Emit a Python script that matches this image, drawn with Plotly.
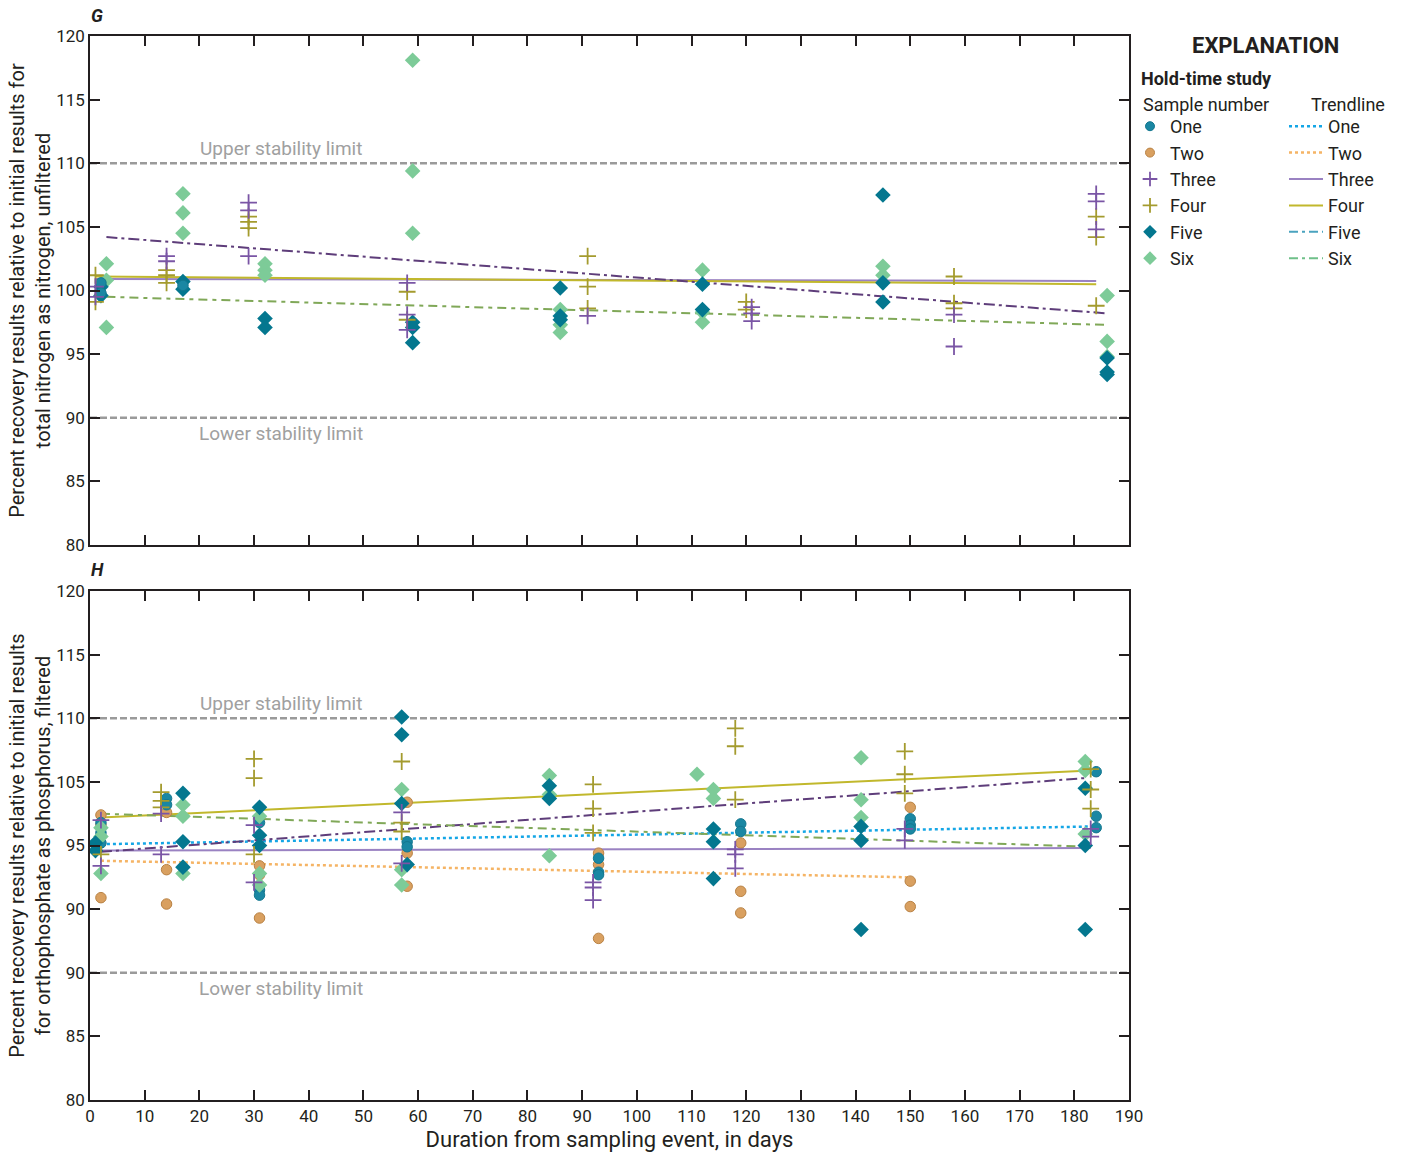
import plotly.graph_objects as go

FONT = "Liberation Sans Narrow, Roboto, Arial Narrow, sans-serif"

# ---------------- Panel G : total nitrogen ----------------
G_ONE_DAY = [2, 2, 17]
G_ONE_VAL = [100.6, 99.8, 100.4]
G_THREE_DAY = [1, 1, 14, 14, 29, 29, 29, 58, 58, 58, 91, 121, 121, 121, 158, 158, 184, 184, 184]
G_THREE_VAL = [100.3, 99.5, 102.7, 102.3, 106.9, 106.3, 102.7, 100.6, 98.1, 96.9, 98.0,
               98.7, 98.2, 97.6, 98.1, 95.6, 107.6, 107.0, 104.8]
G_FOUR_DAY = [1, 1, 14, 14, 14, 29, 29, 29, 58, 58, 91, 91, 91, 120, 120, 158, 158, 158, 184, 184, 184]
G_FOUR_VAL = [101.2, 99.1, 101.6, 101.2, 100.6, 105.8, 105.4, 104.9, 99.9, 97.7, 102.7, 100.3,
              98.6, 99.1, 98.5, 101.1, 99.0, 98.6, 105.8, 104.2, 98.8]
G_FIVE_DAY = [2, 2, 17, 17, 32, 32, 59, 59, 59, 86, 86, 86, 112, 112, 145, 145, 145, 186, 186, 186]
G_FIVE_VAL = [100.3, 99.6, 100.7, 100.1, 97.8, 97.1, 97.5, 97.1, 95.9, 100.2, 98.0, 97.7,
              100.5, 98.5, 107.5, 100.6, 99.1, 94.7, 93.6, 93.4]
G_SIX_DAY = [3, 3, 3, 17, 17, 17, 32, 32, 32, 59, 59, 59, 86, 86, 86, 112, 112, 112, 145, 145, 186, 186, 186]
G_SIX_VAL = [102.1, 100.8, 97.1, 107.6, 106.1, 104.5, 102.1, 101.6, 101.2, 118.1, 109.4, 104.5,
             98.5, 97.3, 96.7, 101.6, 98.3, 97.5, 101.9, 101.2, 99.6, 96.0, 94.8]

# trendlines G: [start day, end day], [start value, end value]
G_TREND_THREE = ([1, 184], [100.9, 100.75])
G_TREND_FOUR = ([1, 184], [101.1, 100.5])
G_TREND_FIVE = ([3, 186], [104.2, 98.2])
G_TREND_SIX = ([3, 186], [99.5, 97.3])

# ---------------- Panel H : orthophosphate ----------------
H_ONE_DAY = [2, 2, 2, 14, 14, 31, 31, 31, 58, 58, 93, 93, 93, 119, 119, 150, 150, 150, 184, 184, 184]
H_ONE_VAL = [101.8, 101.0, 100.2, 103.7, 103.2, 101.8, 96.5, 96.1, 100.3, 99.9, 99.0, 97.9, 97.7,
             101.7, 101.1, 102.1, 101.6, 101.3, 105.8, 102.3, 101.4]
H_TWO_DAY = [2, 2, 2, 14, 14, 14, 31, 31, 31, 58, 58, 58, 93, 93, 93, 119, 119, 119, 150, 150, 150]
H_TWO_VAL = [102.4, 101.6, 95.9, 102.6, 98.1, 95.4, 98.4, 97.7, 94.3, 103.4, 99.4, 96.8,
             99.4, 98.5, 92.7, 100.2, 96.4, 94.7, 103.0, 97.2, 95.2]
H_THREE_DAY = [2, 2, 13, 13, 30, 30, 57, 57, 92, 92, 92, 118, 118, 118, 149, 149, 183, 183]
H_THREE_VAL = [102.0, 98.4, 102.5, 99.3, 101.6, 97.1, 102.6, 98.6, 97.1, 96.7, 95.7,
               99.7, 99.3, 98.2, 101.3, 100.4, 101.3, 100.7]
H_FOUR_DAY = [2, 13, 13, 13, 30, 30, 30, 57, 57, 57, 92, 92, 92, 118, 118, 118, 149, 149, 149, 183, 183, 183]
H_FOUR_VAL = [99.3, 104.2, 103.5, 103.0, 106.8, 105.3, 99.3, 106.6, 101.8, 101.1, 104.8, 102.9,
              101.0, 109.2, 107.8, 103.6, 107.4, 105.6, 104.1, 106.0, 104.4, 102.9]
H_FIVE_DAY = [1, 1, 17, 17, 17, 31, 31, 31, 57, 57, 57, 58, 84, 84, 114, 114, 114, 141, 141, 141, 182, 182, 182]
H_FIVE_VAL = [100.2, 99.6, 104.1, 100.3, 98.3, 103.0, 100.8, 100.0, 110.1, 108.7, 103.3, 98.5,
              104.7, 103.7, 101.3, 100.3, 97.4, 101.5, 100.4, 93.4, 104.5, 100.0, 93.4]
H_SIX_DAY = [2, 2, 2, 17, 17, 17, 31, 31, 31, 57, 57, 57, 84, 84, 84, 111, 114, 114, 141, 141, 141, 182, 182, 182]
H_SIX_VAL = [101.4, 100.7, 97.8, 103.2, 102.3, 97.8, 102.3, 97.8, 96.9, 104.4, 98.1, 96.9,
             105.5, 104.0, 99.2, 105.6, 104.4, 103.7, 106.9, 103.6, 102.2, 106.6, 105.9, 100.9]

H_TREND_ONE = ([2, 184], [100.1, 101.5])
H_TREND_TWO = ([2, 150], [98.8, 97.5])
H_TREND_THREE = ([2, 183], [99.6, 99.8])
H_TREND_FOUR = ([2, 183], [102.2, 105.9])
H_TREND_FIVE = ([2, 182], [99.5, 105.3])
H_TREND_SIX = ([2, 183], [102.5, 99.9])

LIMITS = [110, 90]
LIMIT_LABELS = ["Upper stability limit", "Lower stability limit"]
Y_TICKS = [80, 85, 90, 95, 100, 105, 110, 115, 120]
G_TICKTEXT = ["80", "85", "90", "95", "100", "105", "110", "115", "120"]
H_TICKTEXT = ["80", "85", "90", "90", "95", "105", "110", "115", "120"]
SERIES = ["One", "Two", "Three", "Four", "Five", "Six"]

# styles
MARK = {
    "One": dict(symbol="circle", size=10.5, color="#1a87a3", line=dict(color="#14778f", width=1)),
    "Two": dict(symbol="circle", size=10.5, color="#d9a060", line=dict(color="#b98244", width=1)),
    "Three": dict(symbol="cross-thin", size=12, color="#7a55a5", line=dict(color="#7a55a5", width=1.8)),
    "Four": dict(symbol="cross-thin", size=12, color="#a49b2e", line=dict(color="#a49b2e", width=1.8)),
    "Five": dict(symbol="diamond", size=12, color="#04778f", line=dict(width=0)),
    "Six": dict(symbol="diamond", size=12, color="#7dcb98", line=dict(width=0)),
}
TREND_PLOT = {
    "One": dict(color="#14a6e6", width=2.5, dash="dot"),
    "Two": dict(color="#f5b465", width=2.5, dash="dot"),
    "Three": dict(color="#9a82c2", width=2, dash="solid"),
    "Four": dict(color="#c1b82c", width=2, dash="solid"),
    "Five": dict(color="#5e3d7a", width=2, dash="11px,4px,3px,4px"),
    "Six": dict(color="#80a858", width=2, dash="9px,5px,4px,5px"),
}
TREND_LEG = dict(TREND_PLOT)
TREND_LEG["Five"] = dict(color="#4aa3bf", width=2, dash="9px,4px,3px,4px")
TREND_LEG["Six"] = dict(color="#6fc089", width=2, dash="9px,4px,3px,4px")

fig = go.Figure()

def pts(days, vals, name, xa, ya):
    fig.add_trace(go.Scatter(x=days, y=vals, mode="markers", marker=MARK[name],
                             xaxis=xa, yaxis=ya, showlegend=False, hoverinfo="x+y"))

def trend(tr, name, xa, ya):
    fig.add_trace(go.Scatter(x=tr[0], y=tr[1], mode="lines", line=TREND_PLOT[name],
                             xaxis=xa, yaxis=ya, showlegend=False, hoverinfo="skip"))

# G panel
trend(G_TREND_THREE, "Three", "x", "y")
trend(G_TREND_FOUR, "Four", "x", "y")
trend(G_TREND_FIVE, "Five", "x", "y")
trend(G_TREND_SIX, "Six", "x", "y")
pts(G_SIX_DAY, G_SIX_VAL, "Six", "x", "y")
pts(G_FIVE_DAY, G_FIVE_VAL, "Five", "x", "y")
pts(G_ONE_DAY, G_ONE_VAL, "One", "x", "y")
pts(G_FOUR_DAY, G_FOUR_VAL, "Four", "x", "y")
pts(G_THREE_DAY, G_THREE_VAL, "Three", "x", "y")

# H panel
trend(H_TREND_ONE, "One", "x2", "y2")
trend(H_TREND_TWO, "Two", "x2", "y2")
trend(H_TREND_THREE, "Three", "x2", "y2")
trend(H_TREND_FOUR, "Four", "x2", "y2")
trend(H_TREND_FIVE, "Five", "x2", "y2")
trend(H_TREND_SIX, "Six", "x2", "y2")
pts(H_TWO_DAY, H_TWO_VAL, "Two", "x2", "y2")
pts(H_ONE_DAY, H_ONE_VAL, "One", "x2", "y2")
pts(H_SIX_DAY, H_SIX_VAL, "Six", "x2", "y2")
pts(H_FIVE_DAY, H_FIVE_VAL, "Five", "x2", "y2")
pts(H_FOUR_DAY, H_FOUR_VAL, "Four", "x2", "y2")
pts(H_THREE_DAY, H_THREE_VAL, "Three", "x2", "y2")

# legend-only entries
for s in SERIES:
    fig.add_trace(go.Scatter(x=[None], y=[None], mode="markers", name=s,
                             marker=dict(MARK[s], size=MARK[s]["size"] - 1.5), legend="legend"))
for s in SERIES:
    fig.add_trace(go.Scatter(x=[None], y=[None], mode="lines", name=s,
                             line=TREND_LEG[s], legend="legend2"))

L, R, T, B = 90, 277, 36, 56
PW, PH = 1406 - L - R, 1156 - T - B

# limit lines
shapes = []
annots = []
for yref, xref in (("y", "x"), ("y2", "x2")):
    for lim, lab in zip(LIMITS, LIMIT_LABELS):
        shapes.append(dict(type="line", xref=f"{xref} domain", x0=0, x1=1, yref=yref, y0=lim, y1=lim,
                           line=dict(color="#9a9a9a", width=2.5, dash="7px,3px"), layer="below"))
        annots.append(dict(x=35, y=lim, xref=xref, yref=yref, text=lab, showarrow=False,
                           yshift=15 if lim > 100 else -16,
                           font=dict(family=FONT, size=19, color="#a0a0a0")))

px_notes = [("<b><i>G</i></b>", 97, 15, 18, "center"), ("<b><i>H</i></b>", 97, 569, 18, "center"),
            ("<b>EXPLANATION</b>", 1265, 45, 22, "center"),
            ("<b>Hold-time study</b>", 1139, 78, 18, "left"),
            ("Sample number", 1141, 104, 18, "left"),
            ("Trendline", 1309, 104, 18, "left")]
for txt, px, py, sz, al in px_notes:
    annots.append(dict(x=(px - L) / PW, y=(1156 - B - py) / PH, xref="paper", yref="paper",
                       text=txt, showarrow=False, xanchor=al, yanchor="middle",
                       font=dict(family=FONT, size=sz, color="#231f20")))

axis_common = dict(range=[0, 190], dtick=10, tick0=0, ticks="inside", ticklen=10, tickwidth=1.5,
                   tickcolor="#231f20", showline=True, linecolor="#231f20", linewidth=1.5,
                   mirror="ticks", showgrid=False, zeroline=False, automargin=False,
                   tickfont=dict(family=FONT, size=17, color="#231f20"))
yaxis_common = dict(range=[80, 120], tickvals=Y_TICKS, ticks="inside", ticklen=10, tickwidth=1.5,
                    tickcolor="#231f20", showline=True, linecolor="#231f20", linewidth=1.5,
                    mirror="ticks", showgrid=False, zeroline=False, automargin=False,
                    tickfont=dict(family=FONT, size=17, color="#231f20"))

gtop = (1156 - B - 545) / PH
htop = (1156 - B - 591) / PH

fig.update_layout(
    width=1406, height=1156,
    margin=dict(l=L, r=R, t=T, b=B, autoexpand=False),
    paper_bgcolor="white", plot_bgcolor="white",
    font=dict(family=FONT, color="#231f20"),
    xaxis=dict(axis_common, domain=[0, 1], anchor="y", showticklabels=False),
    xaxis2=dict(axis_common, domain=[0, 1], anchor="y2",
                title=dict(text="Duration from sampling event, in days",
                           font=dict(family=FONT, size=22, color="#231f20"), standoff=6)),
    yaxis=dict(yaxis_common, domain=[gtop, 1], anchor="x", ticktext=G_TICKTEXT,
               title=dict(text="Percent recovery results relative to initial results for<br>"
                               "total nitrogen as nitrogen, unfiltered",
                          font=dict(family=FONT, size=20, color="#231f20"), standoff=0)),
    yaxis2=dict(yaxis_common, domain=[0, htop], anchor="x2", ticktext=H_TICKTEXT,
                title=dict(text="Percent recovery results relative to initial results<br>"
                                "for orthophosphate as phosphorus, filtered",
                           font=dict(family=FONT, size=20, color="#231f20"), standoff=0)),
    shapes=shapes,
    annotations=annots,
    legend=dict(x=(1130 - L) / PW, y=(1156 - B - 108) / PH, xanchor="left", yanchor="top",
                font=dict(family=FONT, size=18, color="#231f20"), itemwidth=30,
                bgcolor="rgba(0,0,0,0)", tracegroupgap=0),
    legend2=dict(x=(1284 - L) / PW, y=(1156 - B - 108) / PH, xanchor="left", yanchor="top",
                 font=dict(family=FONT, size=18, color="#231f20"), itemwidth=34,
                 bgcolor="rgba(0,0,0,0)", tracegroupgap=0),
    showlegend=True,
)

fig.write_html("out.html")
